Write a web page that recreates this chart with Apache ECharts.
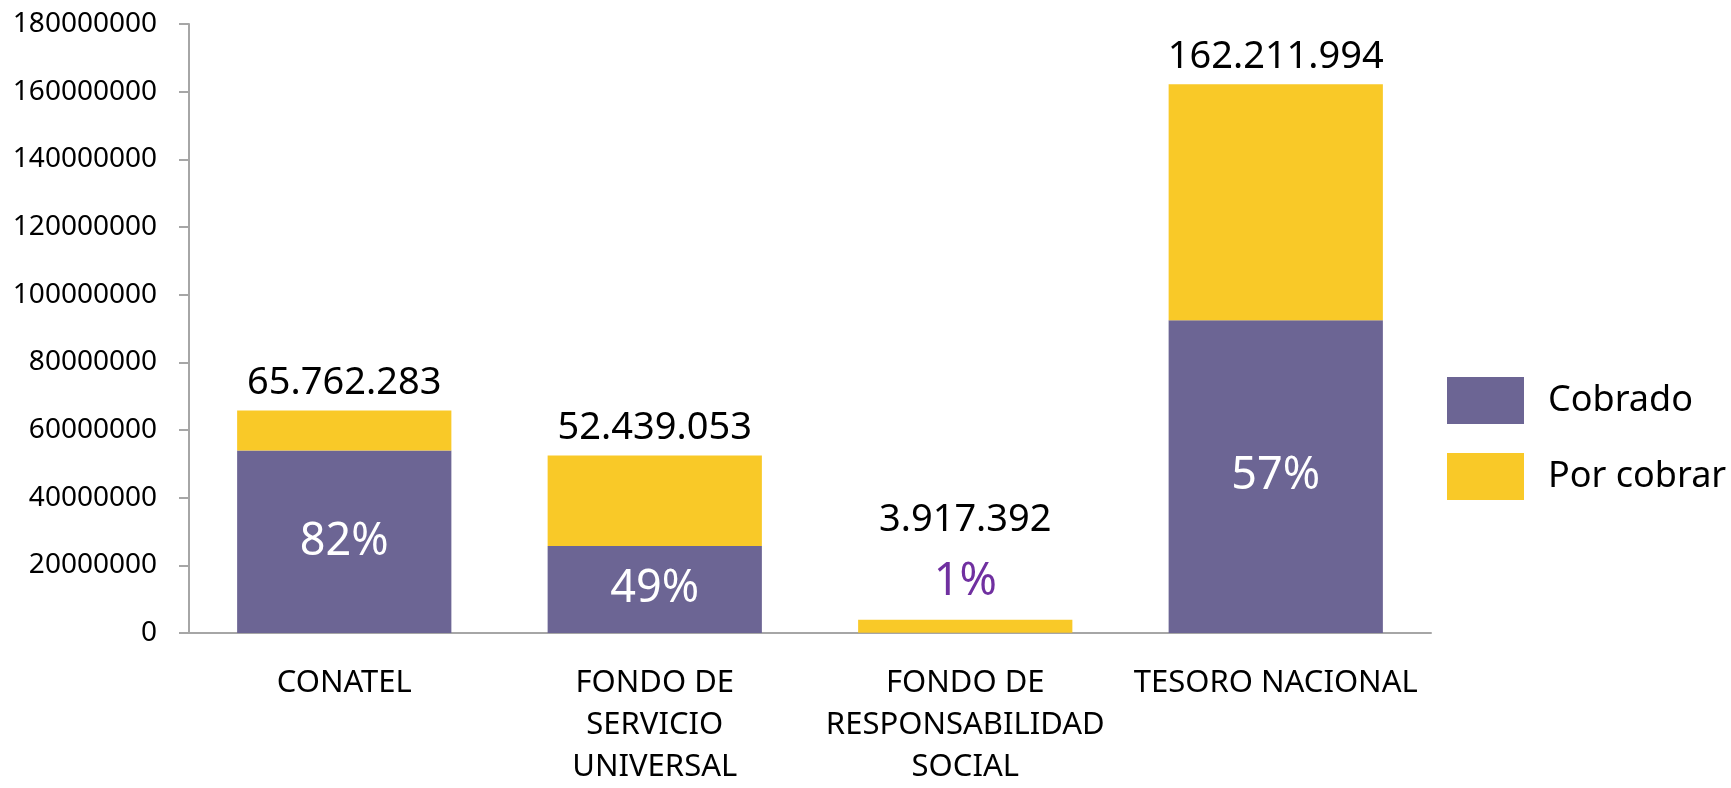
<!DOCTYPE html>
<html>
<head>
<meta charset="utf-8">
<title>Cobrado / Por cobrar</title>
<script src="https://cdn.jsdelivr.net/npm/echarts@6/dist/echarts.min.js"></script>
<style>
    html, body { margin: 0; padding: 0; background: #fff; }
    #chart { width: 1731px; height: 788px; }
</style>
</head>
<body>
<div id="chart"></div>
<script>
    // datos
    let categorias = ['CONATEL', 'FONDO DE\nSERVICIO\nUNIVERSAL', 'FONDO DE\nRESPONSABILIDAD\nSOCIAL', 'TESORO NACIONAL'];
    let cobrado = [53925072, 25695136, 39174, 92460837];
    let porCobrar = [11837211, 26743917, 3878218, 69751157];
    let totales = [65762283, 52439053, 3917392, 162211994];
    let porcentajes = ['82%', '49%', '1%', '57%'];
    let ejeY = { min: 0, max: 180000000, interval: 20000000 };

    const FONT = 'Noto Sans';
    const MORADO = '#6C6594';
    const AMARILLO = '#F9C928';

    function puntos(n) {
        return String(n).replace(/\B(?=(\d{3})+(?!\d))/g, '.');
    }

    let chart = echarts.init(document.getElementById('chart'));

    let option = {
        animation: false,
        textStyle: { fontFamily: FONT },
        grid: {
            left: 189,
            right: 300,
            top: 24,
            bottom: 152,
            containLabel: false
        },
        legend: {
            orient: 'vertical',
            left: 1447,
            top: 377,
            padding: 0,
            itemWidth: 77,
            itemHeight: 47,
            itemGap: 29,
            icon: 'rect',
            selectedMode: false,
            textStyle: {
                fontFamily: FONT,
                fontSize: 36,
                color: '#000',
                padding: [0, 0, 0, 19]
            },
            data: ['Cobrado', 'Por cobrar']
        },
        xAxis: {
            type: 'category',
            data: categorias,
            axisLine: { lineStyle: { color: '#A6A6A6', width: 2 } },
            axisTick: { length: 12, lineStyle: { color: '#A6A6A6', width: 2 } },
            axisLabel: {
                color: '#000',
                fontFamily: FONT,
                fontSize: 31,
                lineHeight: 42,
                margin: 29,
                interval: 0
            }
        },
        yAxis: {
            type: 'value',
            min: ejeY.min,
            max: ejeY.max,
            interval: ejeY.interval,
            splitLine: { show: false },
            axisLine: { show: true, lineStyle: { color: '#A6A6A6', width: 2 } },
            axisTick: { show: true, length: 10, lineStyle: { color: '#A6A6A6', width: 2 } },
            axisLabel: {
                color: '#000',
                fontFamily: FONT,
                fontSize: 28,
                margin: 32,
                formatter: function (v) { return String(v); }
            }
        },
        series: [
            {
                name: 'Cobrado',
                type: 'bar',
                stack: 'total',
                barWidth: '69%',
                itemStyle: { color: MORADO },
                label: {
                    show: true,
                    position: 'inside',
                    color: '#fff',
                    fontFamily: FONT,
                    fontSize: 45,
                    formatter: function (p) {
                        // el porcentaje chico se pone arriba con el total
                        return p.value / totales[p.dataIndex] < 0.05 ? '' : porcentajes[p.dataIndex];
                    }
                },
                data: cobrado
            },
            {
                name: 'Por cobrar',
                type: 'bar',
                stack: 'total',
                barWidth: '69%',
                itemStyle: { color: AMARILLO },
                label: {
                    show: true,
                    position: 'top',
                    distance: 8,
                    color: '#000',
                    fontFamily: FONT,
                    fontSize: 38,
                    formatter: function (p) {
                        let i = p.dataIndex;
                        if (cobrado[i] / totales[i] < 0.05) {
                            return '{t|' + puntos(totales[i]) + '}\n{p|' + porcentajes[i] + '}';
                        }
                        return puntos(totales[i]);
                    },
                    rich: {
                        t: { fontFamily: FONT, fontSize: 38, color: '#000', lineHeight: 64 },
                        p: { fontFamily: FONT, fontSize: 45, color: '#7030A0', lineHeight: 60 }
                    }
                },
                data: porCobrar
            }
        ]
    };

    chart.setOption(option);
</script>
</body>
</html>
